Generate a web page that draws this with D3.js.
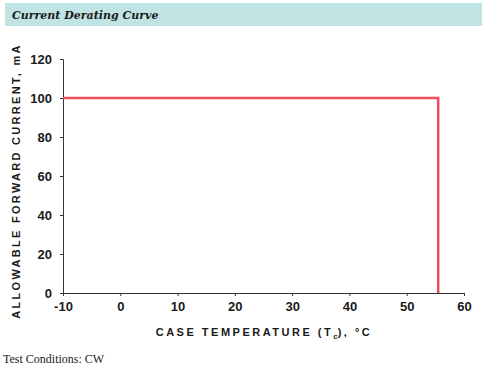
<!DOCTYPE html>
<html>
<head>
<meta charset="utf-8">
<script src="https://cdn.jsdelivr.net/npm/d3@7"></script>
<style>
  body { margin: 0; background: #fff; }
  svg { display: block; }
</style>
</head>
<body>
<div id="chart"></div>
<script>
// derating curve: current (mA) vs case temperature (°C)
const tempC = [-10, 55.5, 55.5];
const currentMA = [100, 100, 0];
const xTicks = [-10, 0, 10, 20, 30, 40, 50, 60];
const yTicks = [0, 20, 40, 60, 80, 100, 120];

const W = 482, H = 373;
const margin = { top: 59, right: 18, bottom: 80, left: 63 },
    width = W - margin.left - margin.right,
    height = H - margin.top - margin.bottom;

const svg = d3.select("#chart").append("svg")
    .attr("width", W)
    .attr("height", H);

// title band
svg.append("rect")
    .attr("x", 5).attr("y", 3)
    .attr("width", W - 5).attr("height", 23)
    .attr("fill", "#c0e3e3");
svg.append("text")
    .text("Current Derating Curve")
    .attr("x", 12).attr("y", 19)
    .style("font-family", "'DejaVu Serif', serif")
    .style("font-weight", "bold")
    .style("font-style", "italic")
    .style("font-size", "11px")
    .style("fill", "#1a1a1a");

const g = svg.append("g")
    .attr("transform", "translate(" + margin.left + "," + margin.top + ")");

const x = d3.scaleLinear().domain([-10, 60]).range([0, width]);
const y = d3.scaleLinear().domain([0, 120]).range([height, 0]);

const xAxis = g.append("g")
    .attr("transform", `translate(0, ${height})`)
    .call(d3.axisBottom(x).tickValues(xTicks).tickFormat(d => String(d))
        .tickSize(3).tickSizeOuter(3).tickPadding(6));
const yAxis = g.append("g")
    .call(d3.axisLeft(y).tickValues(yTicks).tickFormat(d => String(d))
        .tickSize(3).tickSizeOuter(3).tickPadding(8));

[xAxis, yAxis].forEach(a => {
    a.selectAll("path, line").style("stroke", "#333");
    a.selectAll("text")
        .style("font-family", "'Liberation Sans', Arial, sans-serif")
        .style("font-weight", "bold")
        .style("font-size", "13px")
        .style("fill", "#1a1a1a");
});

const line = d3.line()
    .x((d, i) => x(tempC[i]))
    .y(d => y(d));

g.append("path")
    .datum(currentMA)
    .attr("d", line)
    .attr("fill", "none")
    .attr("stroke", "#ef4f5c")
    .attr("stroke-width", 2.5);

// axis titles
const xLab = svg.append("text")
    .attr("x", 264).attr("y", 336)
    .style("text-anchor", "middle")
    .style("font-family", "'Liberation Sans', Arial, sans-serif")
    .style("font-weight", "bold")
    .style("font-size", "11px")
    .style("letter-spacing", "2.5px")
    .style("fill", "#1a1a1a");
xLab.append("tspan").text("CASE TEMPERATURE (T");
xLab.append("tspan").text("c").attr("dy", 3).style("font-size", "8px").style("letter-spacing", "0px");
xLab.append("tspan").text("), °C").attr("dy", -3);

svg.append("text")
    .text("ALLOWABLE FORWARD CURRENT, mA")
    .attr("transform", "translate(20, 181) rotate(-90)")
    .style("text-anchor", "middle")
    .style("font-family", "'Liberation Sans', Arial, sans-serif")
    .style("font-weight", "bold")
    .style("font-size", "11px")
    .style("letter-spacing", "2.3px")
    .style("fill", "#1a1a1a");

svg.append("text")
    .text("Test Conditions: CW")
    .attr("x", 3).attr("y", 363)
    .style("font-family", "'Liberation Serif', 'DejaVu Serif', serif")
    .style("font-size", "12px")
    .style("fill", "#222");
</script>
</body>
</html>
